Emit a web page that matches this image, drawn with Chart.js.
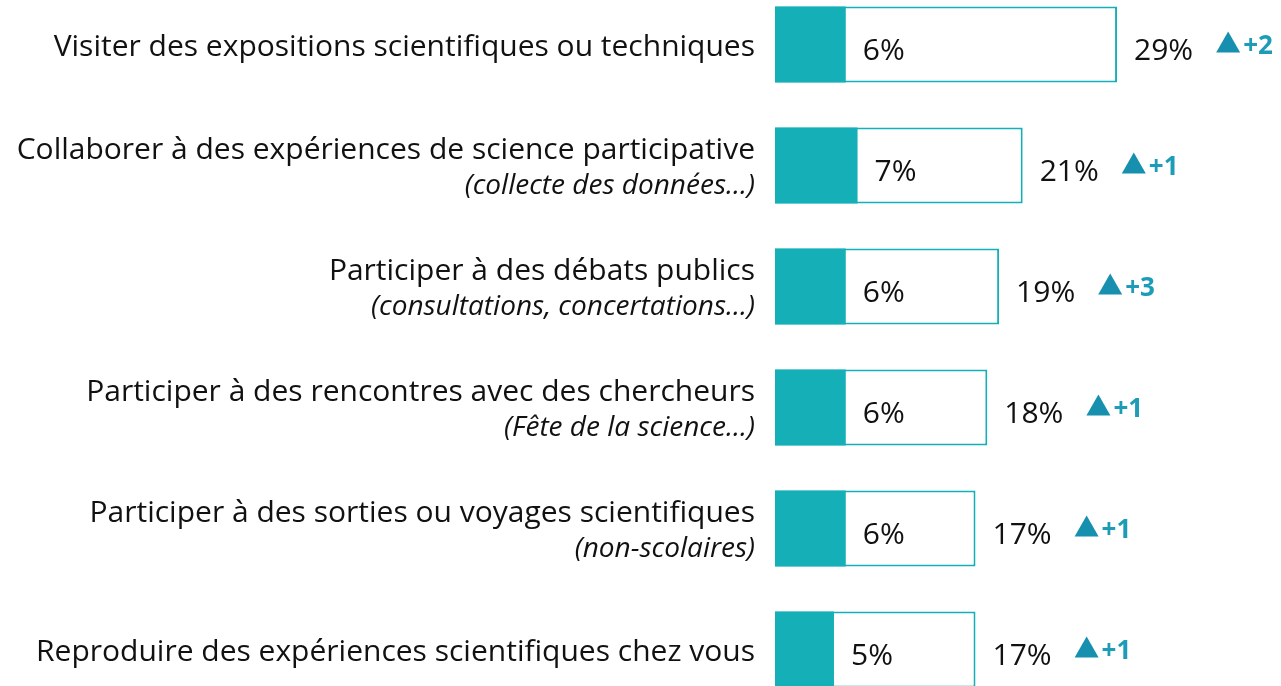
<!DOCTYPE html>
<html>
<head>
<meta charset="utf-8">
<script src="https://cdn.jsdelivr.net/npm/chart.js@4"></script>
<style>
  html, body { margin: 0; padding: 0; background: #fff; overflow: hidden; }
  #wrap { position: absolute; left: 0; top: -16px; width: 1281px; height: 726px; }
</style>
</head>
<body>
<div id="wrap"><canvas id="chart"></canvas></div>
<script>
const labels = [
    'Visiter des expositions scientifiques ou techniques',
    'Collaborer à des expériences de science participative',
    'Participer à des débats publics',
    'Participer à des rencontres avec des chercheurs',
    'Participer à des sorties ou voyages scientifiques',
    'Reproduire des expériences scientifiques chez vous'
];
const subLabels = [
    '',
    '(collecte des données...)',
    '(consultations, concertations...)',
    '(Fête de la science...)',
    '(non-scolaires)',
    ''
];
const oftenValues = [6, 7, 6, 6, 6, 5];     // filled part
const totalValues = [29, 21, 19, 18, 17, 17]; // outlined box
const deltas = ['+2', '+1', '+3', '+1', '+1', '+1'];

const TEAL = '#15afb8';
const FONT = '"Open Sans", "Noto Sans", sans-serif';

// labels, values and evolution markers
const textPlugin = {
    id: 'texts',
    afterDatasetsDraw(chart) {
        const ctx = chart.ctx;
        const filled = chart.getDatasetMeta(0).data;
        const boxes = chart.getDatasetMeta(1).data;
        ctx.save();
        ctx.textBaseline = 'alphabetic';
        labels.forEach((label, i) => {
            const y = boxes[i].y;
            // category label
            ctx.fillStyle = '#111';
            ctx.textAlign = 'right';
            if (subLabels[i]) {
                ctx.font = '30px ' + FONT;
                ctx.fillText(label, 755, y - 7);
                ctx.font = 'italic 28px ' + FONT;
                ctx.fillText(subLabels[i], 755, y + 28);
            } else {
                ctx.font = '30px ' + FONT;
                ctx.fillText(label, 755, y + 11);
            }
            // values
            ctx.textAlign = 'left';
            ctx.font = '30px ' + FONT;
            ctx.fillText(oftenValues[i] + '%', filled[i].x + 17, y + 15);
            const totalText = totalValues[i] + '%';
            const tx = boxes[i].x + 17;
            ctx.fillText(totalText, tx, y + 15);
            // evolution
            const ax = tx + ctx.measureText(totalText).width + 23;
            ctx.fillStyle = '#1690ae';
            ctx.beginPath();
            ctx.moveTo(ax, y + 8);
            ctx.lineTo(ax + 24, y + 8);
            ctx.lineTo(ax + 12, y - 13);
            ctx.closePath();
            ctx.fill();
            ctx.fillStyle = '#1d9cb8';
            ctx.font = 'bold 26px ' + FONT;
            ctx.fillText(deltas[i], ax + 27, y + 9);
        });
        ctx.restore();
    }
};

new Chart(document.getElementById('chart'), {
    type: 'bar',
    data: {
        labels: labels,
        datasets: [
            {
                label: 'filled',
                data: oftenValues,
                backgroundColor: TEAL,
                borderWidth: 0
            },
            {
                label: 'total',
                data: totalValues,
                backgroundColor: '#ffffff',
                borderColor: TEAL,
                borderWidth: 2,
                borderSkipped: false
            }
        ]
    },
    options: {
        indexAxis: 'y',
        responsive: true,
        maintainAspectRatio: false,
        animation: false,
        grouped: false,
        barPercentage: 0.628,
        categoryPercentage: 1,
        layout: { padding: { left: 775, right: 0, top: 0, bottom: 0 } },
        scales: {
            x: { display: false, min: 0, max: 42.9 },
            y: { display: false }
        },
        plugins: {
            legend: { display: false },
            tooltip: { enabled: false }
        }
    },
    plugins: [textPlugin]
});
</script>
</body>
</html>
